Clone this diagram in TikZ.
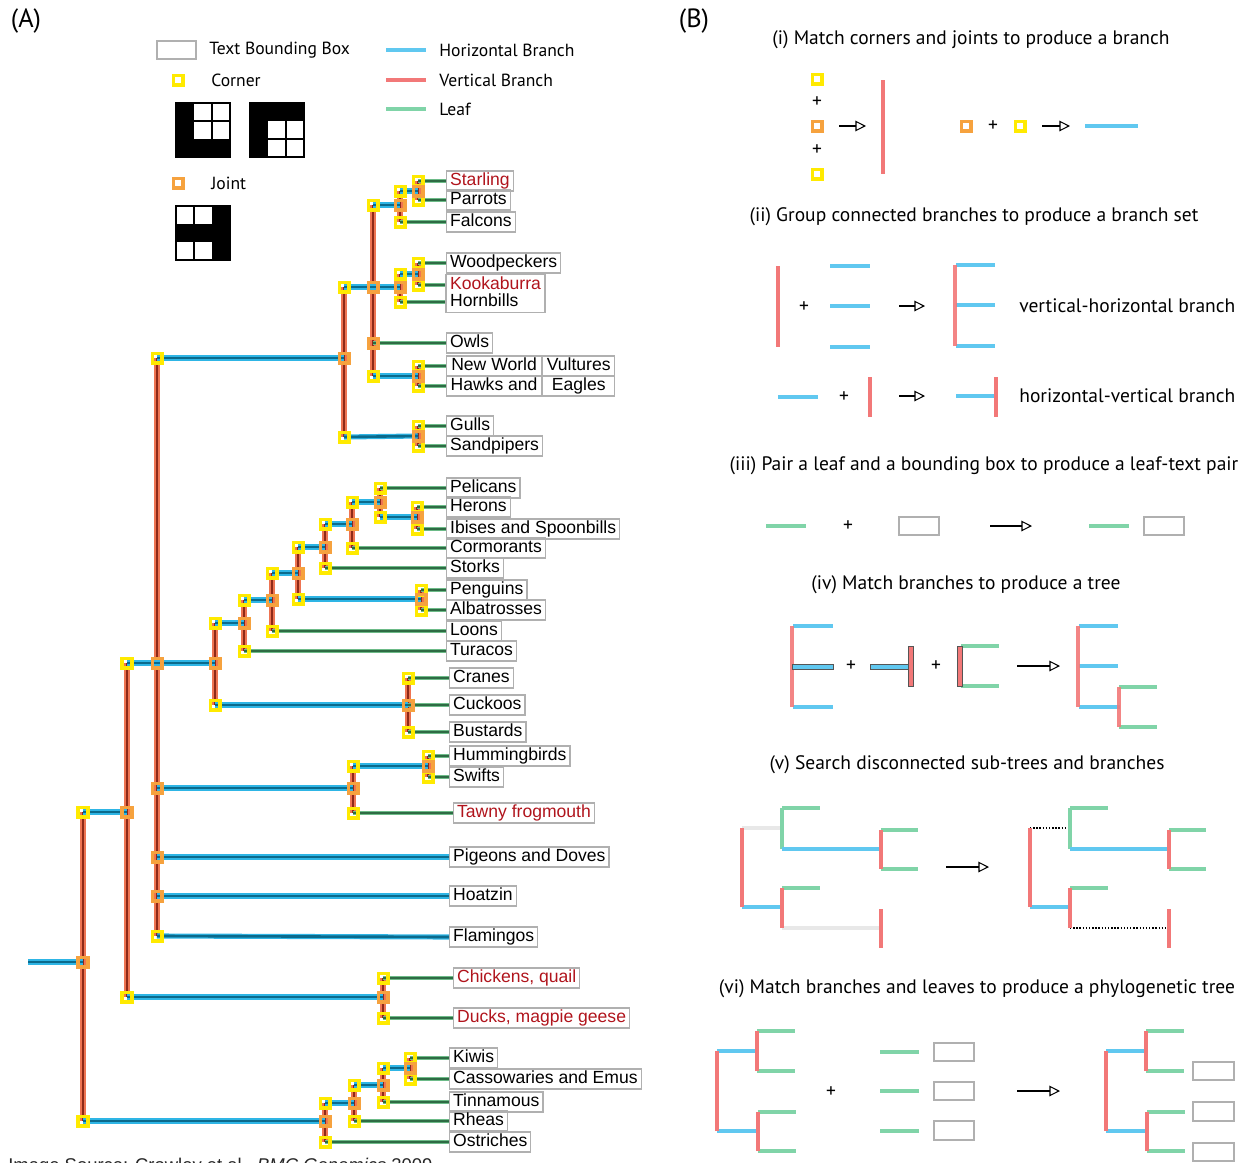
\documentclass[tikz,border=0pt]{standalone}
\usepackage{fontspec}
\setmainfont{PT Sans}
\newfontfamily\treefont{Liberation Sans}
\usetikzlibrary{positioning,arrows.meta}

\pgfdeclarelayer{background}
\pgfsetlayers{background,main}

\definecolor{hlight}{HTML}{2EB5E5}
\definecolor{hdark}{HTML}{0B6A8C}
\definecolor{vlight}{HTML}{EE7452}
\definecolor{vdark}{HTML}{8E2A18}
\definecolor{llight}{HTML}{6DBB88}
\definecolor{ldark}{HTML}{2E6B44}
\definecolor{cornery}{HTML}{FFEA00}
\definecolor{jointo}{HTML}{F6A23E}
\definecolor{pblue}{HTML}{60C8F0}
\definecolor{pred}{HTML}{F27878}
\definecolor{pgreen}{HTML}{80D4A8}
\definecolor{pgray}{HTML}{E8E8E8}
\definecolor{boxgray}{HTML}{B0B0B0}
\definecolor{treered}{HTML}{B0141C}
\definecolor{outl}{HTML}{555555}

\tikzset{
  btext/.style={font=\fontsize{10}{12}\selectfont, inner sep=0pt},
  bbig/.style={font=\fontsize{11.1}{13}\selectfont, inner sep=0pt},
  plussign/.style={bbig},
  cornerbox/.style={rectangle, draw=cornery, line width=1.8pt, minimum size=5.6pt, inner sep=0pt},
  jointbox/.style={rectangle, draw=jointo, line width=1.8pt, minimum size=5.6pt, inner sep=0pt},
  hbr/.style={preaction={draw=hlight, line width=2.9pt}, draw=hdark, line width=1.5pt},
  vbr/.style={preaction={draw=vlight, line width=2.9pt}, draw=vdark, line width=1.1pt},
  leafline/.style={preaction={draw=llight, line width=2.7pt}, draw=ldark, line width=1.5pt},
  lbl/.style={draw=boxgray, line width=0.7pt, anchor=west, font=\treefont\fontsize{10}{10}\selectfont,
    inner xsep=2pt, inner ysep=0pt, minimum height=11.3pt, text height=7pt, text depth=2pt},
  redlbl/.style={lbl, text=treered},
  plainlbl/.style={lbl, draw=none},
  phline/.style={draw=pblue, line width=2.5pt},
  pvline/.style={draw=pred, line width=2.5pt},
  pgline/.style={draw=pgreen, line width=2.5pt},
  pgrayline/.style={draw=pgray, line width=2.5pt},
  dotline/.style={draw=black, densely dotted, line width=0.8pt},
  boxline/.style={draw=boxgray, line width=0.9pt},
  outlined/.style={draw=outl, line width=0.5pt},
  parrow/.style={-{Triangle[open, length=6pt, width=6pt]}, line width=0.6pt}
}

\begin{document}
\begin{tikzpicture}[x=0.02cm, y=-0.02cm]
\useasboundingbox (0,0) rectangle (1249,1163);
\clip (0,0) rectangle (1249,1163);

% panel letters
\node[btext, font=\fontsize{15}{18}\selectfont] (pa) at (26,21) {(A)};
\node[btext, font=\fontsize{15}{18}\selectfont] (pb) at (694,21) {(B)};

% legend
\draw[boxline] (157,41) rectangle (196,59);
\node[btext, anchor=west] (lgbox) at (209,50) {Text Bounding Box};
\node[cornerbox, fill=white] (lgc) at (178,80) {};
\node[btext, anchor=west] (lgct) at (211,80) {Corner};
\node[jointbox, fill=white] (lgj) at (178,183) {};
\node[btext, anchor=west] (lgjt) at (211,183) {Joint};
% corner patterns
\fill (176,103) rectangle (194,157);
\fill (176,139) rectangle (230,157);
\draw[line width=0.6pt] (176,103) rectangle (230,157);
\draw[line width=0.6pt] (212,103) -- (212,139);
\draw[line width=0.6pt] (194,121) -- (230,121);
\fill (250,103) rectangle (304,121);
\fill (250,103) rectangle (268,157);
\draw[line width=0.6pt] (250,103) rectangle (304,157);
\draw[line width=0.6pt] (286,121) -- (286,157);
\draw[line width=0.6pt] (268,139) -- (304,139);
% joint pattern
\fill (212,206) rectangle (230,260);
\fill (176,224) rectangle (230,242);
\draw[line width=0.6pt] (176,206) rectangle (230,260);
\draw[line width=0.6pt] (194,206) -- (194,224);
\draw[line width=0.6pt] (194,242) -- (194,260);
\draw[phline] (386,50) -- (426,50);
\node[btext, anchor=west] (lgh) at (439,50) {Horizontal Branch};
\draw[pvline] (386,80) -- (426,80);
\node[btext, anchor=west] (lgv) at (439,80) {Vertical Branch};
\draw[pgline] (386,109) -- (426,109);
\node[btext, anchor=west] (lgl) at (439,109) {Leaf};

% tree: corners
\node[cornerbox] (c0a) at (83,812) {};
\node[cornerbox] (c0b) at (83,1121) {};
\node[cornerbox] (c1a) at (127,663) {};
\node[cornerbox] (c1b) at (127,997) {};
\node[cornerbox] (c2a) at (157,358) {};
\node[cornerbox] (c2b) at (157,936) {};
\node[cornerbox] (c3a) at (215,623) {};
\node[cornerbox] (c3b) at (215,705) {};
\node[cornerbox] (c7a) at (244,600) {};
\node[cornerbox] (c7b) at (244,651) {};
\node[cornerbox] (c8a) at (272,573) {};
\node[cornerbox] (c8b) at (272,631) {};
\node[cornerbox] (c9a) at (298,547) {};
\node[cornerbox] (c9b) at (298,599) {};
\node[cornerbox] (c10a) at (421,590) {};
\node[cornerbox] (c10b) at (421,610) {};
\node[cornerbox] (c11a) at (325,524) {};
\node[cornerbox] (c11b) at (325,568) {};
\node[cornerbox] (c12a) at (352,502) {};
\node[cornerbox] (c12b) at (352,548) {};
\node[cornerbox] (c13a) at (380,488) {};
\node[cornerbox] (c13b) at (380,517) {};
\node[cornerbox] (c14a) at (417,507) {};
\node[cornerbox] (c14b) at (417,529) {};
\node[cornerbox] (c15a) at (408,678) {};
\node[cornerbox] (c15b) at (408,732) {};
\node[cornerbox] (c16a) at (353,766) {};
\node[cornerbox] (c16b) at (353,813) {};
\node[cornerbox] (c17a) at (428,756) {};
\node[cornerbox] (c17b) at (428,777) {};
\node[cornerbox] (c18a) at (344,287) {};
\node[cornerbox] (c18b) at (344,437) {};
\node[cornerbox] (c19a) at (373,205) {};
\node[cornerbox] (c19b) at (373,376) {};
\node[cornerbox] (c20a) at (400,274) {};
\node[cornerbox] (c20b) at (400,302) {};
\node[cornerbox] (c22a) at (418,263) {};
\node[cornerbox] (c22b) at (418,285) {};
\node[cornerbox] (c23a) at (400,191) {};
\node[cornerbox] (c23b) at (400,222) {};
\node[cornerbox] (c24a) at (418,181) {};
\node[cornerbox] (c24b) at (418,200) {};
\node[cornerbox] (c25a) at (418,366) {};
\node[cornerbox] (c25b) at (418,386) {};
\node[cornerbox] (c26a) at (418,426) {};
\node[cornerbox] (c26b) at (418,446) {};
\node[cornerbox] (c27a) at (383,978) {};
\node[cornerbox] (c27b) at (383,1018) {};
\node[cornerbox] (c28a) at (325,1103) {};
\node[cornerbox] (c28b) at (325,1142) {};
\node[cornerbox] (c29a) at (354,1085) {};
\node[cornerbox] (c29b) at (354,1121) {};
\node[cornerbox] (c30a) at (383,1068) {};
\node[cornerbox] (c30b) at (383,1102) {};
\node[cornerbox] (c31a) at (410,1058) {};
\node[cornerbox] (c31b) at (410,1079) {};

% tree: joints
\node[jointbox] (j0) at (83,962) {};
\node[jointbox] (j1) at (127,812) {};
\node[jointbox] (j2) at (157,663) {};
\node[jointbox] (j3) at (215,663) {};
\node[jointbox] (j4) at (157,788) {};
\node[jointbox] (j5) at (157,857) {};
\node[jointbox] (j6) at (157,896) {};
\node[jointbox] (j7) at (244,623) {};
\node[jointbox] (j8) at (272,600) {};
\node[jointbox] (j9) at (298,573) {};
\node[jointbox] (j10) at (421,599) {};
\node[jointbox] (j11) at (325,547) {};
\node[jointbox] (j12) at (352,524) {};
\node[jointbox] (j13) at (380,502) {};
\node[jointbox] (j14) at (417,517) {};
\node[jointbox] (j15) at (408,705) {};
\node[jointbox] (j16) at (353,788) {};
\node[jointbox] (j17) at (428,766) {};
\node[jointbox] (j18) at (344,358) {};
\node[jointbox] (j19) at (373,287) {};
\node[jointbox] (j20) at (400,287) {};
\node[jointbox] (j21) at (373,343) {};
\node[jointbox] (j22) at (418,274) {};
\node[jointbox] (j23) at (400,205) {};
\node[jointbox] (j24) at (418,191) {};
\node[jointbox] (j25) at (418,376) {};
\node[jointbox] (j26) at (418,436) {};
\node[jointbox] (j27) at (383,997) {};
\node[jointbox] (j28) at (325,1121) {};
\node[jointbox] (j29) at (354,1103) {};
\node[jointbox] (j30) at (383,1085) {};
\node[jointbox] (j31) at (410,1068) {};
\coordinate (r0) at (28,962);

% tree: labels
\node[redlbl] (starling) at (446,181) {Starling};
\node[lbl] (parrots) at (446,200) {Parrots};
\node[lbl] (falcons) at (446,222) {Falcons};
\node[lbl] (woodpeckers) at (446,263) {Woodpeckers};
\node[plainlbl, text=treered] (kook) at (446,285) {Kookaburra};
\node[plainlbl] (hornb) at (446,302) {Hornbills};
\draw[boxline, line width=0.7pt] (kook.north west) rectangle (kook.east |- hornb.south);
\node[lbl] (owls) at (446,343) {Owls};
\node[lbl, minimum width=54pt] (nwl) at (446,366) {New World};
\node[lbl, minimum width=41pt, right=0pt of nwl] (vult) {Vultures};
\node[lbl, minimum width=54pt] (hawk) at (446,386) {Hawks and};
\node[lbl, minimum width=41pt, right=0pt of hawk] (eagl) {Eagles};
\node[lbl] (gulls) at (446,426) {Gulls};
\node[lbl] (sandpipers) at (446,446) {Sandpipers};
\node[lbl] (pelicans) at (446,488) {Pelicans};
\node[lbl] (herons) at (446,507) {Herons};
\node[lbl] (ibises) at (446,529) {Ibises and Spoonbills};
\node[lbl] (cormorants) at (446,548) {Cormorants};
\node[lbl] (storks) at (446,568) {Storks};
\node[lbl] (penguins) at (446,590) {Penguins};
\node[lbl] (albatrosses) at (446,610) {Albatrosses};
\node[lbl] (loons) at (446,631) {Loons};
\node[lbl] (turacos) at (446,651) {Turacos};
\node[lbl] (cranes) at (449,678) {Cranes};
\node[lbl] (cuckoos) at (449,705) {Cuckoos};
\node[lbl] (bustards) at (449,732) {Bustards};
\node[lbl] (hummingbirds) at (449,756) {Hummingbirds};
\node[lbl] (swifts) at (449,777) {Swifts};
\node[redlbl] (tawny) at (453,813) {Tawny frogmouth};
\node[lbl] (pigeons) at (449,857) {Pigeons and Doves};
\node[lbl] (hoatzin) at (449,896) {Hoatzin};
\node[lbl] (flamingos) at (449,937) {Flamingos};
\node[redlbl] (chickens) at (453,978) {Chickens, quail};
\node[redlbl] (ducks) at (453,1018) {Ducks, magpie geese};
\node[lbl] (kiwis) at (449,1058) {Kiwis};
\node[lbl] (cassowaries) at (449,1079) {Cassowaries and Emus};
\node[lbl] (tinnamous) at (449,1102) {Tinnamous};
\node[lbl] (rheas) at (449,1121) {Rheas};
\node[lbl] (ostriches) at (449,1142) {Ostriches};

\begin{pgfonlayer}{background}
  % vertical branches
  \draw[vbr] (c0a.center) -- (c0b.center);
  \draw[vbr] (c1a.center) -- (c1b.center);
  \draw[vbr] (c2a.center) -- (c2b.center);
  \draw[vbr] (c3a.center) -- (c3b.center);
  \draw[vbr] (c7a.center) -- (c7b.center);
  \draw[vbr] (c8a.center) -- (c8b.center);
  \draw[vbr] (c9a.center) -- (c9b.center);
  \draw[vbr] (c10a.center) -- (c10b.center);
  \draw[vbr] (c11a.center) -- (c11b.center);
  \draw[vbr] (c12a.center) -- (c12b.center);
  \draw[vbr] (c13a.center) -- (c13b.center);
  \draw[vbr] (c14a.center) -- (c14b.center);
  \draw[vbr] (c15a.center) -- (c15b.center);
  \draw[vbr] (c16a.center) -- (c16b.center);
  \draw[vbr] (c17a.center) -- (c17b.center);
  \draw[vbr] (c18a.center) -- (c18b.center);
  \draw[vbr] (c19a.center) -- (c19b.center);
  \draw[vbr] (c20a.center) -- (c20b.center);
  \draw[vbr] (c22a.center) -- (c22b.center);
  \draw[vbr] (c23a.center) -- (c23b.center);
  \draw[vbr] (c24a.center) -- (c24b.center);
  \draw[vbr] (c25a.center) -- (c25b.center);
  \draw[vbr] (c26a.center) -- (c26b.center);
  \draw[vbr] (c27a.center) -- (c27b.center);
  \draw[vbr] (c28a.center) -- (c28b.center);
  \draw[vbr] (c29a.center) -- (c29b.center);
  \draw[vbr] (c30a.center) -- (c30b.center);
  \draw[vbr] (c31a.center) -- (c31b.center);
  % horizontal branches
  \draw[hbr] (r0) -- (j0.center);
  \draw[hbr] (c0a.center) -- (j1.center);
  \draw[hbr] (c1a.center) -- (j3.center);
  \draw[hbr] (c3a.center) -- (j7.center);
  \draw[hbr] (c7a.center) -- (j8.center);
  \draw[hbr] (c8a.center) -- (j9.center);
  \draw[hbr] (c9b.center) -- (j10.center);
  \draw[hbr] (c9a.center) -- (j11.center);
  \draw[hbr] (c11a.center) -- (j12.center);
  \draw[hbr] (c12a.center) -- (j13.center);
  \draw[hbr] (c13b.center) -- (j14.center);
  \draw[hbr] (c3b.center) -- (j15.center);
  \draw[hbr] (j4.center) -- (j16.center);
  \draw[hbr] (c16a.center) -- (j17.center);
  \draw[hbr] (j5.center) -- (pigeons.west);
  \draw[hbr] (j6.center) -- (hoatzin.west);
  \draw[hbr] (c2b.center) -- (flamingos.west);
  \draw[hbr] (c2a.center) -- (j18.center);
  \draw[hbr] (c18a.center) -- (j20.center);
  \draw[hbr] (c20a.center) -- (j22.center);
  \draw[hbr] (c19a.center) -- (j23.center);
  \draw[hbr] (c23a.center) -- (j24.center);
  \draw[hbr] (c19b.center) -- (j25.center);
  \draw[hbr] (c18b.center) -- (j26.center);
  \draw[hbr] (c1b.center) -- (j27.center);
  \draw[hbr] (c0b.center) -- (j28.center);
  \draw[hbr] (c28a.center) -- (j29.center);
  \draw[hbr] (c29a.center) -- (j30.center);
  \draw[hbr] (c30a.center) -- (j31.center);
  % leaves
  \draw[leafline] (c24a.center) -- (starling.west);
  \draw[leafline] (c24b.center) -- (parrots.west);
  \draw[leafline] (c23b.center) -- (falcons.west);
  \draw[leafline] (c22a.center) -- (woodpeckers.west);
  \draw[leafline] (c22b.center) -- (kook.west);
  \draw[leafline] (c20b.center) -- (hornb.west);
  \draw[leafline] (j21.center) -- (owls.west);
  \draw[leafline] (c25a.center) -- (nwl.west);
  \draw[leafline] (c25b.center) -- (hawk.west);
  \draw[leafline] (c26a.center) -- (gulls.west);
  \draw[leafline] (c26b.center) -- (sandpipers.west);
  \draw[leafline] (c13a.center) -- (pelicans.west);
  \draw[leafline] (c14a.center) -- (herons.west);
  \draw[leafline] (c14b.center) -- (ibises.west);
  \draw[leafline] (c12b.center) -- (cormorants.west);
  \draw[leafline] (c11b.center) -- (storks.west);
  \draw[leafline] (c10a.center) -- (penguins.west);
  \draw[leafline] (c10b.center) -- (albatrosses.west);
  \draw[leafline] (c8b.center) -- (loons.west);
  \draw[leafline] (c7b.center) -- (turacos.west);
  \draw[leafline] (c15a.center) -- (cranes.west);
  \draw[leafline] (j15.center) -- (cuckoos.west);
  \draw[leafline] (c15b.center) -- (bustards.west);
  \draw[leafline] (c17a.center) -- (hummingbirds.west);
  \draw[leafline] (c17b.center) -- (swifts.west);
  \draw[leafline] (c16b.center) -- (tawny.west);
  \draw[leafline] (c27a.center) -- (chickens.west);
  \draw[leafline] (c27b.center) -- (ducks.west);
  \draw[leafline] (c31a.center) -- (kiwis.west);
  \draw[leafline] (c31b.center) -- (cassowaries.west);
  \draw[leafline] (c30b.center) -- (tinnamous.west);
  \draw[leafline] (c29b.center) -- (rheas.west);
  \draw[leafline] (c28b.center) -- (ostriches.west);
\end{pgfonlayer}

\node[anchor=base west, inner sep=0pt, text=black!85, font=\treefont\fontsize{10.5}{12}\selectfont] (src) at (8,1171)
  {Image Source: Crowley et al., \textit{BMC Genomics} 2009};

% (i)
\node[bbig] (t1) at (971,40) {(i) Match corners and joints to produce a branch};
\node[cornerbox, fill=white] (m1) at (817,79) {};
\node[plussign] (p1) at (817,102) {+};
\node[jointbox, fill=white] (m2) at (817,126) {};
\node[plussign] (p2) at (817,150) {+};
\node[cornerbox, fill=white] (m3) at (817,174) {};
\coordinate (a1s) at (839,126);
\coordinate (a1e) at (866,126);
\draw[parrow] (a1s) -- (a1e);
\draw[pvline] (883,80) -- (883,174);
\node[jointbox, fill=white] (m4) at (966,126) {};
\node[plussign] (p3) at (993,126) {+};
\node[cornerbox, fill=white] (m5) at (1020,126) {};
\coordinate (a2s) at (1042,126);
\coordinate (a2e) at (1070,126);
\draw[parrow] (a2s) -- (a2e);
\draw[phline] (1085,126) -- (1138,126);

% (ii)
\node[bbig] (t2) at (974,217) {(ii) Group connected branches to produce a branch set};
\draw[pvline] (778,266) -- (778,347);
\node[plussign] (p4) at (804,307) {+};
\draw[phline] (830,266) -- (870,266);
\draw[phline] (830,306) -- (870,306);
\draw[phline] (830,347) -- (870,347);
\coordinate (a3s) at (899,306);
\coordinate (a3e) at (925,306);
\draw[parrow] (a3s) -- (a3e);
\draw[phline] (956,265) -- (995,265);
\draw[phline] (956,305) -- (995,305);
\draw[phline] (956,346) -- (995,346);
\draw[pvline, opacity=0.9] (955,265) -- (955,346);
\node[bbig, anchor=west] (vh) at (1019,306) {vertical-horizontal branch};
\draw[phline] (778,397) -- (818,397);
\node[plussign] (p5) at (844,397) {+};
\draw[pvline] (870,377) -- (870,417);
\coordinate (a4s) at (899,396);
\coordinate (a4e) at (925,396);
\draw[parrow] (a4s) -- (a4e);
\draw[phline] (956,396) -- (995,396);
\draw[pvline] (996,377) -- (996,417);
\node[bbig, anchor=west] (hv) at (1019,396) {horizontal-vertical branch};

% (iii)
\node[bbig] (t3) at (984,466) {(iii) Pair a leaf and a bounding box to produce a leaf-text pair};
\draw[pgline] (766,526) -- (806,526);
\node[plussign] (p6) at (848,526) {+};
\draw[boxline] (899,517) rectangle (939,535);
\coordinate (a5s) at (990,526);
\coordinate (a5e) at (1032,526);
\draw[parrow] (a5s) -- (a5e);
\draw[pgline] (1089,526) -- (1129,526);
\draw[boxline] (1144,517) rectangle (1184,535);

% (iv)
\node[bbig] (t4) at (966,585) {(iv) Match branches to produce a tree};
\draw[phline] (793,626) -- (833,626);
\draw[phline] (793,707) -- (833,707);
\draw[pvline, opacity=0.9] (792,626) -- (792,707);
\filldraw[fill=pblue, outlined] (792,664) rectangle (833,669);
\node[plussign] (p7) at (851,666) {+};
\filldraw[fill=pblue, outlined] (870,664) rectangle (909,669);
\filldraw[fill=pred, outlined] (908,646) rectangle (913,686);
\node[plussign] (p8) at (936,666) {+};
\draw[pgline] (961,646) -- (999,646);
\draw[pgline] (961,686) -- (999,686);
\filldraw[fill=pred, outlined] (957,646) rectangle (962,686);
\coordinate (a6s) at (1017,666);
\coordinate (a6e) at (1060,666);
\draw[parrow] (a6s) -- (a6e);
\draw[phline] (1079,626) -- (1118,626);
\draw[phline] (1079,666) -- (1118,666);
\draw[phline] (1079,707) -- (1120,707);
\draw[pvline, opacity=0.9] (1078,626) -- (1078,707);
\draw[pgline] (1119,687) -- (1157,687);
\draw[pgline] (1119,727) -- (1157,727);
\draw[pvline, opacity=0.9] (1119,687) -- (1119,727);

% (v)
\node[bbig] (t5) at (967,765) {(v) Search disconnected sub-trees and branches};
\draw[pgrayline] (742,828) -- (782,828);
\draw[pgrayline] (782,928) -- (880,928);
\draw[pgline] (782,808) -- (820,808);
\draw[pgline] (782,808) -- (782,849);
\draw[phline] (782,849) -- (880,849);
\draw[pgline] (881,830) -- (918,830);
\draw[pgline] (881,869) -- (918,869);
\draw[pvline] (881,830) -- (881,869);
\draw[phline] (742,907) -- (782,907);
\draw[pvline] (742,828) -- (742,907);
\draw[pgline] (782,888) -- (820,888);
\draw[pvline] (782,888) -- (782,928);
\draw[pvline] (881,909) -- (881,948);
\coordinate (a7s) at (946,867);
\coordinate (a7e) at (989,867);
\draw[parrow] (a7s) -- (a7e);
\begin{scope}[shift={(288,0)}]
  \draw[dotline] (742,828) -- (782,828);
  \draw[dotline] (782,928) -- (880,928);
  \draw[pgline] (782,808) -- (820,808);
  \draw[pgline] (782,808) -- (782,849);
  \draw[phline] (782,849) -- (880,849);
  \draw[pgline] (881,830) -- (918,830);
  \draw[pgline] (881,869) -- (918,869);
  \draw[pvline] (881,830) -- (881,869);
  \draw[phline] (742,907) -- (782,907);
  \draw[pvline] (742,828) -- (742,907);
  \draw[pgline] (782,888) -- (820,888);
  \draw[pvline] (782,888) -- (782,928);
  \draw[pvline] (881,909) -- (881,948);
\end{scope}

% (vi)
\node[bbig] (t6) at (977,989) {(vi) Match branches and leaves to produce a phylogenetic tree};
\draw[phline] (717,1051) -- (757,1051);
\draw[phline] (717,1131) -- (757,1131);
\draw[pvline] (717,1051) -- (717,1131);
\draw[pgline] (757,1031) -- (795,1031);
\draw[pgline] (757,1071) -- (795,1071);
\draw[pvline] (757,1031) -- (757,1071);
\draw[pgline] (758,1112) -- (796,1112);
\draw[pgline] (758,1151) -- (796,1151);
\draw[pvline] (758,1112) -- (758,1151);
\node[plussign] (p9) at (831,1092) {+};
\draw[pgline] (880,1052) -- (919,1052);
\draw[pgline] (880,1091) -- (919,1091);
\draw[pgline] (880,1131) -- (919,1131);
\draw[boxline] (934,1043) rectangle (974,1061);
\draw[boxline] (934,1082) rectangle (974,1100);
\draw[boxline] (934,1121) rectangle (974,1140);
\coordinate (a8s) at (1017,1091);
\coordinate (a8e) at (1060,1091);
\draw[parrow] (a8s) -- (a8e);
\begin{scope}[shift={(389,0)}]
  \draw[phline] (717,1051) -- (757,1051);
  \draw[phline] (717,1131) -- (757,1131);
  \draw[pvline] (717,1051) -- (717,1131);
  \draw[pgline] (757,1031) -- (795,1031);
  \draw[pgline] (757,1071) -- (795,1071);
  \draw[pvline] (757,1031) -- (757,1071);
  \draw[pgline] (758,1112) -- (796,1112);
  \draw[pgline] (758,1151) -- (796,1151);
  \draw[pvline] (758,1112) -- (758,1151);
\end{scope}
\draw[boxline] (1193,1062) rectangle (1234,1080);
\draw[boxline] (1193,1102) rectangle (1234,1121);
\draw[boxline] (1193,1143) rectangle (1234,1161);
\end{tikzpicture}
\end{document}
